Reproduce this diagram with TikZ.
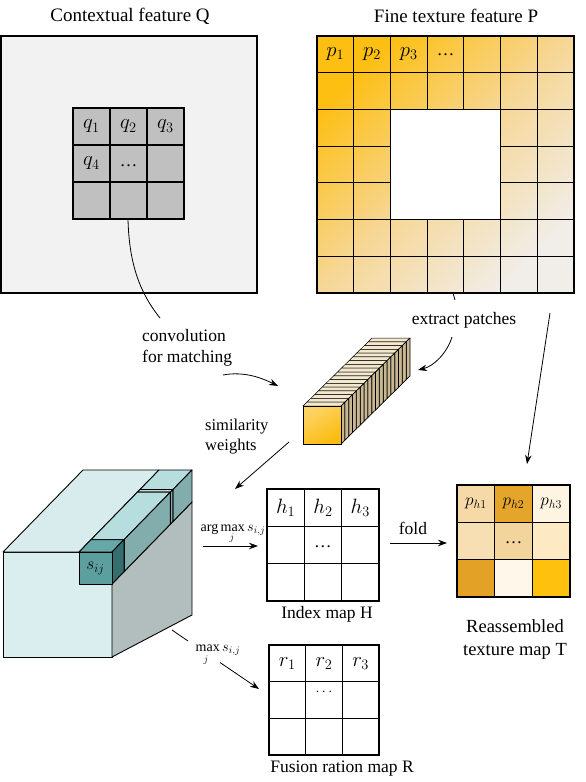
\documentclass[tikz,border=0pt]{standalone}
\usepackage{fontspec}
\setmainfont{Liberation Serif}
\newfontfamily\tnr{Liberation Serif}
\usetikzlibrary{arrows.meta}
\definecolor{qbg}{HTML}{F2F2F2}
\definecolor{qcell}{HTML}{C0C0C0}
\definecolor{pA}{HTML}{FDBF12}
\definecolor{pM}{HTML}{F6D797}
\definecolor{pB}{HTML}{F1EDE8}
\definecolor{slTop}{HTML}{F3E8CE}
\definecolor{slRight}{HTML}{C9B893}
\definecolor{stA}{HTML}{FBBC10}
\definecolor{stB}{HTML}{FCD466}
\definecolor{bfront}{HTML}{DAEEF0}
\definecolor{btop}{HTML}{D8ECEE}
\definecolor{bright}{HTML}{B2BEBE}
\definecolor{rowtop}{HTML}{B6DEDF}
\definecolor{rowright}{HTML}{83ADAD}
\definecolor{rowthin}{HTML}{E6F3F3}
\definecolor{sijfront}{HTML}{5D9E9E}
\definecolor{sijtop}{HTML}{68A7A7}
\definecolor{sijright}{HTML}{346F6F}
\definecolor{tA}{HTML}{F5D9A6}
\definecolor{tB}{HTML}{E5A52B}
\definecolor{tC}{HTML}{FEF4E2}
\definecolor{tD}{HTML}{F8DFB3}
\definecolor{tE}{HTML}{F2D59D}
\definecolor{tF}{HTML}{FDE9C4}
\definecolor{tG}{HTML}{E3A126}
\definecolor{tH}{HTML}{FFF7EA}
\definecolor{tI}{HTML}{FEC10E}
\begin{document}
\begin{tikzpicture}[x=1pt,y=-1pt,
 txt/.style={inner sep=0pt, font=\tnr\fontsize{17.5}{21}\selectfont},
 ttl/.style={inner sep=0pt, font=\tnr\fontsize{19}{22}\selectfont},
 mth/.style={inner sep=0pt, font=\fontsize{20}{22}\selectfont},
 sml/.style={inner sep=0.5pt, font=\tnr\fontsize{14}{16}\selectfont},
 subj/.style={inner sep=0.5pt, font=\tnr\fontsize{10}{11}\selectfont},
 arr/.style={-{Stealth[length=9pt,width=6.5pt]}, line width=0.8pt},
 plainln/.style={line width=0.8pt},
 gline/.style={line width=1.1pt},
 framebox/.style={line width=1.6pt},
 cubeface/.style={draw=black, line width=0.9pt, line join=round}]
\useasboundingbox (0,0) rectangle (586,782);

% ---------- Contextual feature Q ----------
\node[ttl] (tQ) at (130,16) {Contextual feature Q};
\draw[framebox, fill=qbg] (1,36) rectangle (257,293);
\draw[line width=1.3pt, fill=qcell] (73,108) rectangle (184,219);
\foreach \k in {1,2} {
  \draw[line width=1.3pt] ({73+\k*37},108) -- ({73+\k*37},219);
  \draw[line width=1.3pt] (73,{108+\k*37}) -- (184,{108+\k*37});
}
\node[mth] (q1) at (91.5,126.5) {$q_1$};
\node[mth] (q2) at (128.5,126.5) {$q_2$};
\node[mth] (q3) at (165.5,126.5) {$q_3$};
\node[mth] (q4) at (91.5,163.5) {$q_4$};
\node[txt] (qd) at (128.5,166) {\ldots};

% ---------- Fine texture feature P ----------
\def\pcell{36.714}
\node[ttl] (tP) at (456,16) {Fine texture feature P};
\shade[top color=pA, bottom color=pB, middle color=pM, shading angle=45] (317,36) rectangle (574,293);
\fill[white] ({317+2*\pcell},{36+2*\pcell}) rectangle ({317+5*\pcell},{36+5*\pcell});
\foreach \k in {1,2,5,6} {
  \draw[gline] ({317+\k*\pcell},36) -- ({317+\k*\pcell},293);
  \draw[gline] (317,{36+\k*\pcell}) -- (574,{36+\k*\pcell});
}
\foreach \k in {3,4} {
  \draw[gline] ({317+\k*\pcell},36) -- ({317+\k*\pcell},{36+2*\pcell});
  \draw[gline] ({317+\k*\pcell},{36+5*\pcell}) -- ({317+\k*\pcell},293);
  \draw[gline] (317,{36+\k*\pcell}) -- ({317+2*\pcell},{36+\k*\pcell});
  \draw[gline] ({317+5*\pcell},{36+\k*\pcell}) -- (574,{36+\k*\pcell});
}
\draw[framebox] (317,36) rectangle (574,293);
\node[mth] (p1) at ({317+0.5*\pcell},{36+0.5*\pcell}) {$p_1$};
\node[mth] (p2) at ({317+1.5*\pcell},{36+0.5*\pcell}) {$p_2$};
\node[mth] (p3) at ({317+2.5*\pcell},{36+0.5*\pcell}) {$p_3$};
\node[txt] (pd) at ({317+3.5*\pcell},{36+0.5*\pcell}) {\ldots};

% ---------- connectors top ----------
\coordinate (qs) at (128,219);
\coordinate (qe) at (160,318);
\draw[plainln] (qs) .. controls (129,262) and (139,292) .. (qe);
\node[txt, align=left, anchor=west] (tconv) at (142,348) {convolution\\for matching};
\coordinate (c1) at (223,375);
\coordinate (c2) at (278,386);
\draw[arr] (c1) .. controls (244,371) and (262,378) .. (c2);

\coordinate (ps) at (453,293);
\coordinate (pe) at (455,300);
\draw[plainln] (ps) -- (pe);
\node[txt] (text) at (464,320) {extract patches};
\coordinate (e1) at (452,337);
\coordinate (e2) at (418,370);
\draw[arr] (e1) .. controls (447,353) and (434,366) .. (e2);

\coordinate (l1) at (550,313);
\coordinate (l2) at (527,464);
\draw[arr] (l1) -- (l2);

% ---------- patch stack ----------
\def\nsl{18}
\foreach \i in {18,17,...,1} {
  \pgfmathsetmacro{\ax}{303+\i*69/\nsl}
  \pgfmathsetmacro{\ay}{406-\i*68/\nsl}
  \pgfmathsetmacro{\bx}{303+(\i-1)*69/\nsl}
  \pgfmathsetmacro{\by}{406-(\i-1)*68/\nsl}
  \filldraw[fill=slTop, draw=black, line width=0.5pt, line join=round] (\ax,\ay) -- ({\ax+38},\ay) -- ({\bx+38},\by) -- (\bx,\by) -- cycle;
  \filldraw[fill=slRight, draw=black, line width=0.7pt, line join=round] ({\ax+38},\ay) -- ({\ax+38},{\ay+38}) -- ({\bx+38},{\by+38}) -- ({\bx+38},\by) -- cycle;
}
\shade[top color=stB, bottom color=stA, shading angle=30] (303,406) rectangle (341,444);
\draw[line width=0.9pt] (303,406) rectangle (341,444);
\coordinate (stack) at (322,425);

% ---------- similarity ----------
\node[txt, align=left, anchor=west, font=\tnr\fontsize{16.5}{20}\selectfont] (tsim) at (205,437) {similarity\\weights};
\coordinate (s1) at (289,442);
\coordinate (s2) at (235,489);
\draw[arr] (s1) -- (s2);

% ---------- cube ----------
\filldraw[cubeface, fill=bfront] (3,552) rectangle (112,657);
\filldraw[cubeface, fill=btop] (3,552) -- (83,470) -- (159,470) -- (79,552) -- cycle;
\filldraw[cubeface, fill=bright] (112,584) -- (192,502) -- (192,615) -- (112,657) -- cycle;
\foreach \ta/\tb/\tc/\rc/\fc in {0.76/1/rowtop/rowright/rowtop, 0.73/0.76/rowthin/rowright/rowthin, 0.15/0.73/rowtop/rowright/rowtop, 0/0.15/sijtop/sijright/sijfront} {
  \filldraw[cubeface, fill=\tc] ({79+80*\ta},{552-82*\ta}) -- ({112+80*\ta},{552-82*\ta}) -- ({112+80*\tb},{552-82*\tb}) -- ({79+80*\tb},{552-82*\tb}) -- cycle;
  \filldraw[cubeface, fill=\rc] ({112+80*\ta},{552-82*\ta}) -- ({112+80*\tb},{552-82*\tb}) -- ({112+80*\tb},{584-82*\tb}) -- ({112+80*\ta},{584-82*\ta}) -- cycle;
  \filldraw[cubeface, fill=\fc] ({79+80*\ta},{552-82*\ta}) rectangle ({112+80*\ta},{584-82*\ta});
}
\node[mth, font=\fontsize{18}{20}\selectfont] (sij) at (95.5,568.5) {$s_{ij}$};

% ---------- Index map H ----------
\def\hx{37.33}
\draw[line width=1.4pt] (267,489) rectangle (379,601);
\foreach \k in {1,2} {
  \draw[gline] ({267+\k*\hx},489) -- ({267+\k*\hx},601);
  \draw[gline] (267,{489+\k*\hx}) -- (379,{489+\k*\hx});
}
\node[mth] (h1) at ({267+0.5*\hx},{489+0.5*\hx}) {$h_1$};
\node[mth] (h2) at ({267+1.5*\hx},{489+0.5*\hx}) {$h_2$};
\node[mth] (h3) at ({267+2.5*\hx},{489+0.5*\hx}) {$h_3$};
\node[txt] (hd) at ({267+1.5*\hx},{489+1.55*\hx}) {\ldots};
\node[txt] (tH) at (327,614) {Index map H};

\coordinate (a1) at (203,546);
\coordinate (a2) at (258,546);
\draw[arr] (a1) -- (a2);
\node[sml] (targ) at (233,529.5) {arg\,max$\,s_{i,j}$};
\node[subj] (targj) at (232,538.5) {$j$};

% ---------- fold ----------
\node[txt] (tfold) at (413,528) {fold};
\coordinate (f1) at (390,543);
\coordinate (f2) at (447,543);
\draw[arr] (f1) -- (f2);

% ---------- Reassembled map T ----------
\def\tx{37.67}
\def\ty{37.33}
\foreach \c/\r/\col in {0/0/tA,1/0/tB,2/0/tC,0/1/tD,1/1/tE,2/1/tF,0/2/tG,1/2/tH,2/2/tI} {
  \fill[\col] ({457+\c*\tx},{485+\r*\ty}) rectangle ({457+(\c+1)*\tx},{485+(\r+1)*\ty});
}
\foreach \k in {1,2} {
  \draw[gline] ({457+\k*\tx},485) -- ({457+\k*\tx},597);
  \draw[gline] (457,{485+\k*\ty}) -- (570,{485+\k*\ty});
}
\draw[line width=1.4pt] (457,485) rectangle (570,597);
\node[mth, font=\fontsize{18}{20}\selectfont] (ph1) at ({457+0.5*\tx},{485+0.5*\ty}) {$p_{h1}$};
\node[mth, font=\fontsize{18}{20}\selectfont] (ph2) at ({457+1.5*\tx},{485+0.5*\ty}) {$p_{h2}$};
\node[mth, font=\fontsize{18}{20}\selectfont] (ph3) at ({457+2.5*\tx},{485+0.5*\ty}) {$p_{h3}$};
\node[txt] (td) at ({457+1.5*\tx},{485+1.55*\ty}) {\ldots};
\node[txt, align=center, font=\tnr\fontsize{18.5}{23}\selectfont] (tT) at (515,640) {Reassembled\\texture map T};

% ---------- Fusion ration map R ----------
\def\rx{36.67}
\draw[line width=1.4pt] (269,645) rectangle (379,755);
\foreach \k in {1,2} {
  \draw[gline] ({269+\k*\rx},645) -- ({269+\k*\rx},755);
  \draw[gline] (269,{645+\k*\rx}) -- (379,{645+\k*\rx});
}
\node[mth] (r1) at ({269+0.5*\rx},{645+0.5*\rx}) {$r_1$};
\node[mth] (r2) at ({269+1.5*\rx},{645+0.5*\rx}) {$r_2$};
\node[mth] (r3) at ({269+2.5*\rx},{645+0.5*\rx}) {$r_3$};
\node[mth, font=\fontsize{14}{16}\selectfont] (rd) at ({269+1.5*\rx},{645+1.3*\rx}) {$\cdots$};
\node[txt] (tR) at (342,769) {Fusion ration map R};

\coordinate (m1) at (172,630);
\coordinate (mb) at (188,641);
\coordinate (mc) at (220,662.5);
\coordinate (m2) at (259,689);
\draw[plainln] (m1) -- (mb);
\draw[arr] (mc) -- (m2);
\node[sml] (tmax) at (218,650) {max$\,s_{i,j}$};
\node[subj] (tmaxj) at (206,660) {$j$};
\end{tikzpicture}
\end{document}
